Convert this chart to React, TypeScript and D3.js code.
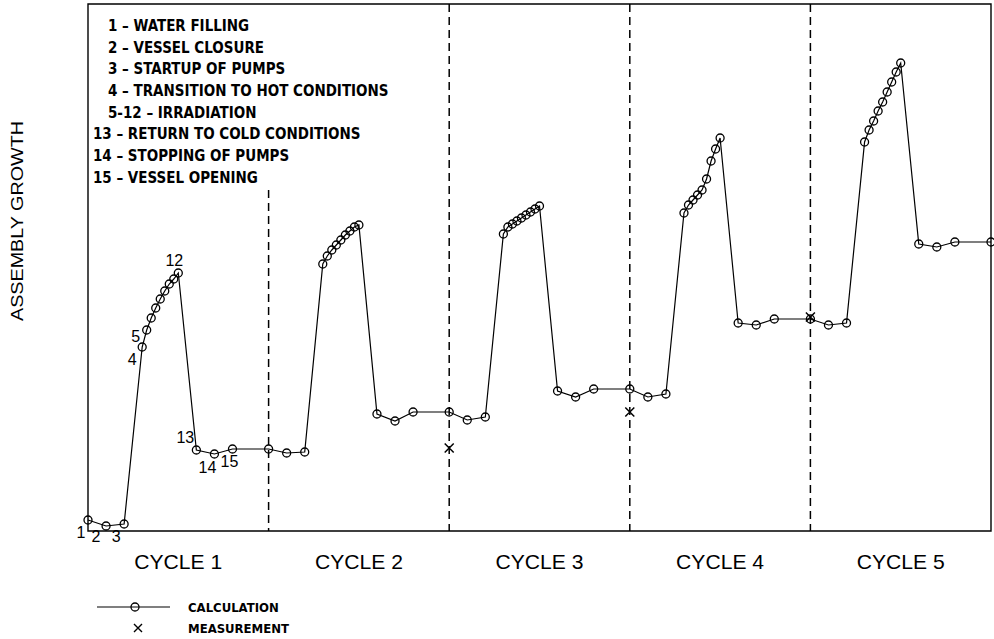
import React from 'react';
import * as d3 from 'd3';

const width = 994;
const height = 639;
const margin = { top: 4, right: 3, bottom: 108, left: 88 };

// position of the 15 steps inside one cycle (cycle length = 10)
const phaseX = [0, 1, 2, 3, 3.25, 3.5, 3.75, 4, 4.25, 4.5, 4.75, 5, 6, 7, 8];

// calculated assembly growth, arbitrary units, steps 1..15 of each cycle
const cycle1 = [2.2, 1.0, 1.4, 36.8, 40.2, 42.6, 44.6, 46.4, 48.0, 49.4, 50.4, 51.6, 16.2, 15.4, 16.4];
const cycle2 = [16.4, 15.6, 15.8, 53.4, 55.0, 56.2, 57.2, 58.2, 59.2, 60.0, 60.8, 61.2, 23.4, 22.0, 23.8];
const cycle3 = [23.8, 22.2, 22.8, 59.4, 60.8, 61.4, 62.0, 62.6, 63.2, 63.8, 64.4, 65.0, 28.0, 26.8, 28.4];
const cycle4 = [28.4, 26.8, 27.4, 63.6, 65.2, 66.2, 67.2, 68.2, 70.4, 74.0, 76.4, 78.6, 41.6, 41.2, 42.4];
const cycle5 = [42.4, 41.2, 41.6, 77.8, 80.2, 82.0, 84.0, 85.8, 87.8, 89.8, 91.8, 93.6, 57.4, 56.8, 57.8];
const cycles = [cycle1, cycle2, cycle3, cycle4, cycle5];
const endPoint = { x: 50, y: 57.8 };

const measX = [20, 30, 40];
const measY = [16.6, 23.8, 42.8];

const cycleLabels = ['CYCLE 1', 'CYCLE 2', 'CYCLE 3', 'CYCLE 4', 'CYCLE 5'];

const legendItems = [
  '1 – WATER FILLING',
  '2 – VESSEL CLOSURE',
  '3 – STARTUP OF PUMPS',
  '4 – TRANSITION TO HOT CONDITIONS',
  '5-12 – IRRADIATION',
  '13 – RETURN TO COLD CONDITIONS',
  '14 – STOPPING OF PUMPS',
  '15 – VESSEL OPENING',
];

// step numbers written next to the first cycle
const stepLabels = ['1', '2', '3', '4', '5', '12', '13', '14', '15'];
const stepIndex = [0, 1, 2, 3, 4, 11, 12, 13, 14];
const stepOffset: [number, number][] = [
  [-7, 18], [-10, 16], [-8, 18], [-10, 18], [-11, 12], [-4, -7], [-11, -7], [-7, 19], [-3, 18],
];

const narrow = '"Liberation Sans Narrow", "DejaVu Sans Condensed", "DejaVu Sans", sans-serif';
const plain = '"Liberation Sans", Arial, sans-serif';

const App = () => {
  const x = d3.scaleLinear().domain([0, 50]).range([margin.left, width - margin.right]);
  const y = d3.scaleLinear().domain([0, 105.4]).range([height - margin.bottom, margin.top]);

  const pts: { x: number; y: number }[] = [];
  cycles.forEach((c, ci) => c.forEach((v, i) => pts.push({ x: ci * 10 + phaseX[i], y: v })));
  pts.push(endPoint);

  const line = d3.line<{ x: number; y: number }>().x(d => x(d.x)).y(d => y(d.y));

  const x0 = x(0), x1 = x(50), yb = y(0), yt = y(105.4);

  return (
    <svg width={width} height={height} style={{ position: 'absolute', left: 0, top: 0, background: '#fff' }}>
      {/* frame */}
      <path d={`M${x0},${yb}V${yt}H${x1}V${yb}Z`} fill="none" stroke="#000" strokeWidth={1.4} />

      {/* cycle boundaries */}
      {[10, 20, 30, 40].map((c, i) => (
        <line key={c} x1={x(c)} x2={x(c)} y1={i === 0 ? 190 : yt} y2={yb}
          stroke="#000" strokeWidth={1.5} strokeDasharray="8,5" />
      ))}

      {/* calculation */}
      <path d={line(pts) || ''} fill="none" stroke="#000" strokeWidth={1.2} />
      {pts.map((d, i) => (
        <circle key={i} cx={x(d.x)} cy={y(d.y)} r={4} fill="none" stroke="#000" strokeWidth={1.3} />
      ))}

      {/* measurement */}
      {measX.map((mx, i) => {
        const cx = x(mx), cy = y(measY[i]);
        return (
          <path key={i} d={`M${cx - 4.5},${cy - 4.5}L${cx + 4.5},${cy + 4.5}M${cx - 4.5},${cy + 4.5}L${cx + 4.5},${cy - 4.5}`}
            stroke="#000" strokeWidth={1.5} />
        );
      })}

      {/* step numbers */}
      {stepLabels.map((s, i) => {
        const d = pts[stepIndex[i]];
        return (
          <text key={s} x={x(d.x) + stepOffset[i][0]} y={y(d.y) + stepOffset[i][1]} textAnchor="middle"
            fontFamily={plain} fontSize={16}>{s}</text>
        );
      })}

      {/* legend of steps */}
      {legendItems.map((t, i) => (
        <text key={t} x={/^\d\d /.test(t) ? 93 : 108} y={31 + i * 21.7} fontFamily={narrow}
          fontSize={15} fontWeight="bold" transform={`translate(0,${31 + i * 21.7}) scale(1,1.05) translate(0,${-(31 + i * 21.7)})`}>{t}</text>
      ))}

      {/* cycle labels */}
      {cycleLabels.map((c, i) => (
        <text key={c} x={x(i * 10 + 5)} y={569} textAnchor="middle" fontFamily={plain} fontSize={21}
          textLength={88} lengthAdjust="spacingAndGlyphs">{c}</text>
      ))}

      {/* y axis title */}
      <text transform={`translate(23,${221}) rotate(-90)`} textAnchor="middle" fontFamily={plain}
        fontSize={16} textLength={200} lengthAdjust="spacingAndGlyphs">ASSEMBLY GROWTH</text>

      {/* bottom legend */}
      <line x1={97} x2={170} y1={607} y2={607} stroke="#000" strokeWidth={1.2} />
      <circle cx={135} cy={607} r={4} fill="none" stroke="#000" strokeWidth={1.3} />
      <text x={188} y={612} fontFamily={narrow} fontSize={13} fontWeight="bold">CALCULATION</text>
      <path d="M134,624L142,632M134,632L142,624" stroke="#000" strokeWidth={1.4} />
      <text x={188} y={633} fontFamily={narrow} fontSize={13} fontWeight="bold">MEASUREMENT</text>
    </svg>
  );
};

export default App;
